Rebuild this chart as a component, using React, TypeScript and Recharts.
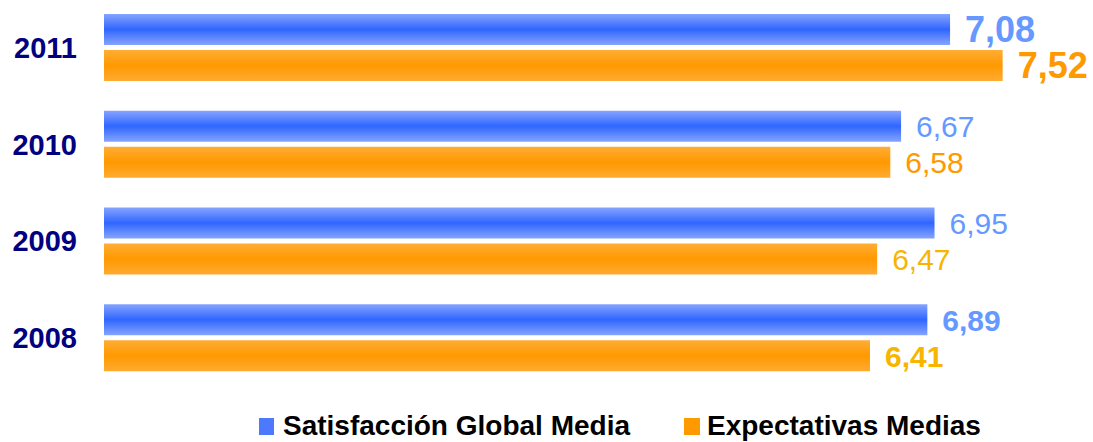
import React from 'react'
import { BarChart, Bar, XAxis, YAxis, Legend, LabelList } from 'recharts'

// data
const years = ['2011', '2010', '2009', '2008']
const satisfaccion = [7.08, 6.67, 6.95, 6.89]
const expectativas = [7.52, 6.58, 6.47, 6.41]
const seriesNames = ['Satisfacción Global Media', 'Expectativas Medias']

const data = years.map((year, i) => ({
  year,
  satisfaccion: satisfaccion[i],
  expectativas: expectativas[i],
}))

// per-row label look (size, weight, colour)
const blueLabelStyle = [
  { size: 36, weight: 700, color: '#6699ff' },
  { size: 30, weight: 400, color: '#6699ff' },
  { size: 30, weight: 400, color: '#6699ff' },
  { size: 30, weight: 700, color: '#6699ff' },
]
const orangeLabelStyle = [
  { size: 36, weight: 700, color: '#ff9900' },
  { size: 30, weight: 400, color: '#ff9900' },
  { size: 30, weight: 400, color: '#f7b500' },
  { size: 30, weight: 700, color: '#f7b500' },
]

const FONT = '"Liberation Sans", Arial, sans-serif'

const fmt = (v: number) => v.toFixed(2).replace('.', ',')

const makeLabel = (styles: typeof blueLabelStyle) => (props: any) => {
  const { x, y, width, height, value, index } = props
  const s = styles[index]
  return (
    <text
      x={x + width + 15}
      y={y + height / 2 + s.size * 0.36}
      fill={s.color}
      fontSize={s.size}
      fontWeight={s.weight}
      fontFamily={FONT}
    >
      {fmt(value)}
    </text>
  )
}

const YearTick = (props: any) => {
  const { y, payload } = props
  return (
    <text x={77} y={y + 29 * 0.36} textAnchor="end" fill="#000080" fontSize={29} fontWeight={700} fontFamily={FONT}>
      {payload.value}
    </text>
  )
}

const LegendContent = () => (
  <svg width={1093} height={56} style={{ display: 'block' }}>
    <rect x={259} y={32} width={15} height={17} fill="#4d79ff" />
    <text x={283} y={49} fontSize={28} fontWeight={700} fontFamily={FONT} fill="#000">
      {seriesNames[0]}
    </text>
    <rect x={684} y={32} width={16} height={17} fill="#ff9900" />
    <text x={707} y={49} fontSize={28} fontWeight={700} fontFamily={FONT} fill="#000">
      {seriesNames[1]}
    </text>
  </svg>
)

export default function App() {
  return (
    <div style={{ position: 'absolute', left: 0, top: 0, width: 1093, height: 442, background: '#fff' }}>
      <BarChart
        width={1093}
        height={442}
        data={data}
        layout="vertical"
        margin={{ top: -1, right: 33, bottom: 0, left: 0 }}
        barGap={5}
      >
        <defs>
          <linearGradient id="blueGrad" x1="0" y1="0" x2="0" y2="1">
            <stop offset="0%" stopColor="#86a4ff" />
            <stop offset="50%" stopColor="#3066ff" />
            <stop offset="100%" stopColor="#86a4ff" />
          </linearGradient>
          <linearGradient id="orangeGrad" x1="0" y1="0" x2="0" y2="1">
            <stop offset="0%" stopColor="#ffad35" />
            <stop offset="50%" stopColor="#ff9900" />
            <stop offset="100%" stopColor="#ffab32" />
          </linearGradient>
        </defs>
        <XAxis type="number" domain={[0, 8]} hide />
        <YAxis type="category" dataKey="year" width={104} axisLine={false} tickLine={false} tick={<YearTick />} />
        <Legend verticalAlign="bottom" height={56} content={<LegendContent />} />
        <Bar dataKey="satisfaccion" name={seriesNames[0]} fill="url(#blueGrad)" barSize={31} isAnimationActive={false}>
          <LabelList dataKey="satisfaccion" content={makeLabel(blueLabelStyle)} />
        </Bar>
        <Bar dataKey="expectativas" name={seriesNames[1]} fill="url(#orangeGrad)" barSize={31} isAnimationActive={false}>
          <LabelList dataKey="expectativas" content={makeLabel(orangeLabelStyle)} />
        </Bar>
      </BarChart>
    </div>
  )
}
